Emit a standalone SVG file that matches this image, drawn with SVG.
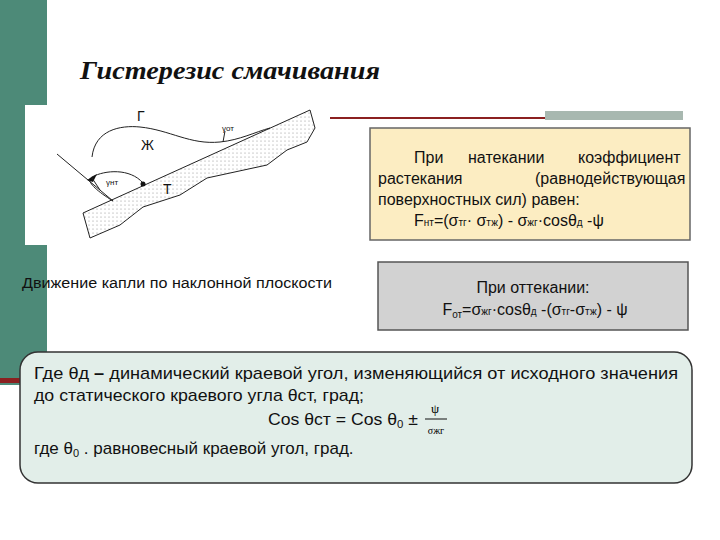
<svg xmlns="http://www.w3.org/2000/svg" width="720" height="540" viewBox="0 0 720 540">
<defs>
<pattern id="dots" width="4" height="4" patternUnits="userSpaceOnUse"><circle cx="1" cy="1" r="0.5" fill="#777"/></pattern>
</defs>
<style>
.s{font-family:"Liberation Sans",Arial,sans-serif;fill:#111}
.ln{fill:none;stroke:#222;stroke-width:1}
</style>
<rect width="720" height="540" fill="#fff"/>
<rect x="0" y="0" width="47" height="385" fill="#4d8a78"/>
<rect x="25" y="105" width="22" height="140" fill="#fff"/>
<rect x="0" y="378" width="22" height="5" fill="#8b2020"/>
<line x1="330" y1="118" x2="545" y2="118" stroke="#8b2020" stroke-width="2"/>
<rect x="545" y="111" width="138" height="9" fill="#a8b8b0"/>
<text x="80" y="79" font-family="Liberation Serif,serif" font-size="25" font-weight="bold" font-style="italic" fill="#111" textLength="300" lengthAdjust="spacingAndGlyphs">Гистерезис смачивания</text>
<g id="figure">
<path d="M83,213 L310,110 L315,128 L307,142 L287,150 L267,165 L207,178 L180,195 L143,207 L120,225 L90,238 Z" fill="url(#dots)" stroke="#222"/>
<path class="ln" d="M92,157 C95,130 120,125 140,127 C170,130 190,145 220,142 C240,140 255,132 270,128"/>
<path class="ln" d="M57,154 L113,201"/>
<path class="ln" d="M113,201 C95,190 85,180 92,177 C105,170 130,168 143,183"/>
<path d="M87,180 L97,174 L93,182 Z" fill="#111"/>
<circle cx="143" cy="184" r="2.5" fill="#111"/>
<line class="ln" x1="92" y1="178" x2="100" y2="190"/>
<line class="ln" x1="225" y1="131" x2="223" y2="142"/>
<text class="s" x="137" y="121" font-size="14">Г</text>
<text class="s" x="141" y="150" font-size="14">Ж</text>
<text class="s" x="222" y="131" font-size="8">γот</text>
<text class="s" x="106" y="185" font-size="8">γнт</text>
<text class="s" x="163" y="194" font-size="14">Т</text>
<text class="s" x="22" y="288" font-size="14" textLength="310" lengthAdjust="spacingAndGlyphs">Движение капли по наклонной плоскости</text>
</g>
<g id="box1">
<rect x="370" y="128" width="320" height="112" fill="#fcedc2" stroke="#666" stroke-width="1.5"/>
<text class="s" font-size="16"><tspan x="414" y="163">При</tspan><tspan x="468" y="163">натекании</tspan><tspan x="578" y="163">коэффициент</tspan></text>
<text class="s" font-size="16"><tspan x="378" y="184">растекания</tspan><tspan x="535" y="184">(равнодействующая</tspan></text>
<text class="s" x="378" y="205" font-size="16">поверхностных сил) равен:</text>
<text class="s" x="414" y="226" font-size="16">F<tspan font-size="10">нт</tspan>=(σ<tspan font-size="10">тг</tspan>· σ<tspan font-size="10">тж</tspan>) - σ<tspan font-size="10">жг</tspan>·cosθ<tspan font-size="10">д</tspan> -ψ</text>
</g>
<g id="box2">
<rect x="378" y="262" width="310" height="68" fill="#d2d2d2" stroke="#555" stroke-width="1.5"/>
<text class="s" x="533" y="293" font-size="16" text-anchor="middle">При оттекании:</text>
<text class="s" x="535" y="315" font-size="16" text-anchor="middle">F<tspan font-size="10" dy="3">от</tspan><tspan dy="-3">=σ</tspan><tspan font-size="10">жг</tspan>·cosθ<tspan font-size="10">д</tspan> -(σ<tspan font-size="10">тг</tspan>-σ<tspan font-size="10">тж</tspan>) - ψ</text>
</g>
<g id="box3">
<rect x="20" y="352" width="672" height="131" rx="18" fill="#e2eee9" stroke="#333" stroke-width="1.5"/>
<text class="s" x="34" y="379" font-size="17" textLength="644" lengthAdjust="spacingAndGlyphs">Где θд <tspan font-weight="bold">–</tspan> динамический краевой угол, изменяющийся от исходного значения</text>
<text class="s" x="34" y="401" font-size="17" textLength="330" lengthAdjust="spacingAndGlyphs">до статического краевого угла θст, град;</text>
<text class="s" x="268" y="425" font-size="17" textLength="150" lengthAdjust="spacingAndGlyphs">Cos θст = Cos θ<tspan font-size="11" dy="3">0</tspan><tspan dy="-3"> ±</tspan></text>
<text x="435" y="413" font-family="Liberation Serif,serif" font-size="13" text-anchor="middle">ψ</text>
<line x1="425" y1="419" x2="447" y2="419" stroke="#111"/>
<text x="436" y="434" font-family="Liberation Serif,serif" font-size="10" text-anchor="middle">σжг</text>
<text class="s" x="34" y="454" font-size="17">где θ<tspan font-size="11" dy="3">0</tspan><tspan dy="-3"> . равновесный краевой угол, град.</tspan></text>
</g>
</svg>
